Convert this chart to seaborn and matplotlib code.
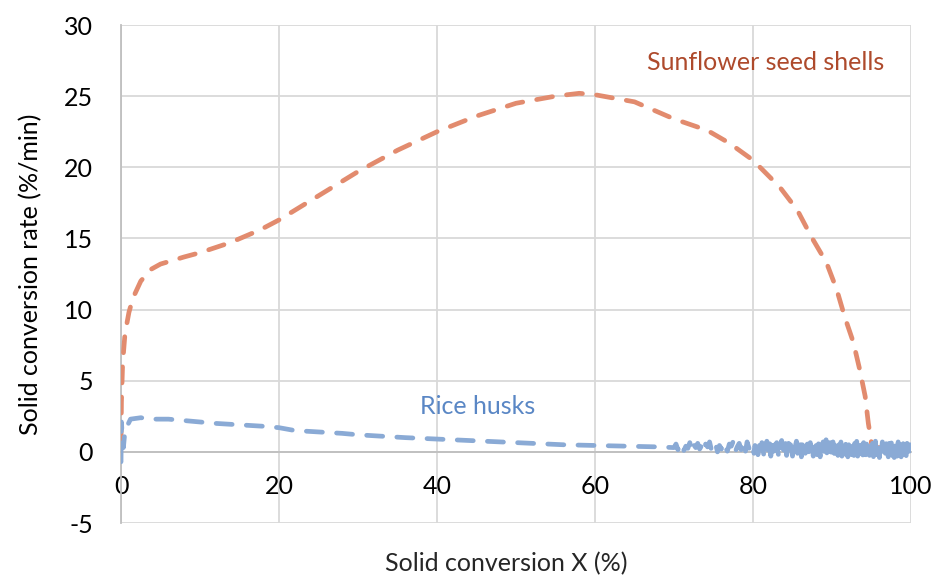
import matplotlib
matplotlib.use("Agg")
import matplotlib.pyplot as plt
import numpy as np
import pandas as pd
import seaborn as sns

# Sunflower seed shells (orange dashed curve)
sun_x = [0.0, 0.05, 0.2, 0.5, 1.0, 1.5, 2.5, 3.7, 5.0, 6.2, 8.0, 10.0, 13.8, 17.6, 20.0,
         25.0, 30.0, 35.0, 40.0, 45.0, 50.0, 55.0, 58.0, 60.0, 65.0, 70.0, 74.2, 77.0,
         80.0, 83.4, 85.6, 87.4, 89.3, 90.6, 91.6, 92.7, 93.5, 94.2, 94.6, 95.0, 95.5, 97.0]
sun_y = [0.6, 3.5, 6.2, 8.3, 9.8, 10.8, 12.0, 12.8, 13.2, 13.4, 13.7, 14.0, 14.7, 15.6, 16.3,
         18.0, 19.7, 21.2, 22.5, 23.6, 24.5, 25.0, 25.2, 25.1, 24.6, 23.4, 22.6, 21.7,
         20.5, 18.6, 17.0, 15.1, 13.3, 11.4, 9.5, 7.7, 5.8, 3.9, 2.0, 0.6, 0.3, 0.3]

# Rice husks (blue dashed curve, noisy from X = 70 %)
rice_x = [0.0, 0.02, 0.05, 0.15, 0.3, 0.5, 1.2, 2.5, 4.0, 6.0, 8.0, 10.0, 12.0, 15.0,
          18.0, 20.0, 22.0, 25.0, 28.0, 30.0, 33.0, 36.0, 40.0, 44.0, 48.0, 52.0, 56.0,
          60.0, 64.0, 68.0,
          70.0, 70.25, 70.5, 70.75, 71.0, 71.25, 71.5, 71.75, 72.0, 72.25, 72.5, 72.75,
          73.0, 73.25, 73.5, 73.75, 74.0, 74.25, 74.5, 74.75, 75.0, 75.25, 75.5, 75.75,
          76.0, 76.25, 76.5, 76.75, 77.0, 77.25, 77.5, 77.75, 78.0, 78.25, 78.5, 78.75,
          79.0, 79.25, 79.5, 79.75,
          80.0, 80.125, 80.25, 80.375, 80.5, 80.625, 80.75, 80.875,
          81.0, 81.125, 81.25, 81.375, 81.5, 81.625, 81.75, 81.875,
          82.0, 82.125, 82.25, 82.375, 82.5, 82.625, 82.75, 82.875,
          83.0, 83.125, 83.25, 83.375, 83.5, 83.625, 83.75, 83.875,
          84.0, 84.125, 84.25, 84.375, 84.5, 84.625, 84.75, 84.875,
          85.0, 85.125, 85.25, 85.375, 85.5, 85.625, 85.75, 85.875,
          86.0, 86.125, 86.25, 86.375, 86.5, 86.625, 86.75, 86.875,
          87.0, 87.125, 87.25, 87.375, 87.5, 87.625, 87.75, 87.875,
          88.0, 88.125, 88.25, 88.375, 88.5, 88.625, 88.75, 88.875,
          89.0, 89.125, 89.25, 89.375, 89.5, 89.625, 89.75, 89.875,
          90.0, 90.125, 90.25, 90.375, 90.5, 90.625, 90.75, 90.875,
          91.0, 91.125, 91.25, 91.375, 91.5, 91.625, 91.75, 91.875,
          92.0, 92.125, 92.25, 92.375, 92.5, 92.625, 92.75, 92.875,
          93.0, 93.125, 93.25, 93.375, 93.5, 93.625, 93.75, 93.875,
          94.0, 94.125, 94.25, 94.375, 94.5, 94.625, 94.75, 94.875,
          95.0, 95.125, 95.25, 95.375, 95.5, 95.625, 95.75, 95.875,
          96.0, 96.125, 96.25, 96.375, 96.5, 96.625, 96.75, 96.875,
          97.0, 97.125, 97.25, 97.375, 97.5, 97.625, 97.75, 97.875,
          98.0, 98.125, 98.25, 98.375, 98.5, 98.625, 98.75, 98.875,
          99.0, 99.125, 99.25, 99.375, 99.5, 99.625, 99.75, 99.875,
          100.0]
rice_y = [-0.7, 1.0, 2.1, 1.2, 0.3, 1.5, 2.3, 2.4, 2.3, 2.3, 2.2, 2.1, 2.0, 1.9,
          1.8, 1.7, 1.5, 1.4, 1.3, 1.2, 1.1, 1.0, 0.9, 0.8, 0.7, 0.6, 0.5,
          0.45, 0.4, 0.35,
          0.3, 0.55, 0.15, 0.45, 0.6, 0.1, 0.4, 0.25, 0.65, 0.05, 0.5, 0.3,
          0.6, 0.2, 0.45, 0.05, 0.55, 0.35, 0.7, 0.1, 0.4, 0.6, 0.0, 0.45,
          0.2, 0.65, 0.3, 0.05, 0.55, 0.4, 0.75, 0.0, 0.35, 0.6, 0.15, 0.5,
          -0.1, 0.7, 0.25, 0.5,
          0.6, -0.1, 0.45, 0.1, 0.7, -0.2, 0.35, 0.55,
          0.0, 0.65, 0.2, -0.25, 0.5, 0.3, 0.75, -0.1,
          0.4, 0.6, -0.3, 0.25, 0.7, 0.05, 0.5, -0.2,
          0.65, 0.15, -0.35, 0.55, 0.3, 0.8, -0.15, 0.45,
          0.1, 0.7, -0.25, 0.4, 0.6, -0.05, 0.5, 0.2,
          -0.3, 0.65, 0.0, 0.45, 0.75, -0.2, 0.35, 0.1,
          0.6, -0.35, 0.5, 0.2, 0.7, -0.1, 0.4, 0.55,
          -0.25, 0.3, 0.65, 0.0, 0.5, -0.3, 0.7, 0.15,
          0.45, -0.2, 0.8, 0.1, -0.35, 0.55, 0.25, 0.7,
          -0.15, 0.4, 0.85, -0.3, 0.5, 0.05, 0.65, -0.2,
          0.35, 0.7, -0.4, 0.45, 0.15, 0.6, -0.25, 0.5,
          0.0, 0.75, -0.3, 0.3, 0.55, -0.15, 0.65, 0.1,
          -0.35, 0.5, 0.2, 0.7, -0.2, 0.4, -0.4, 0.6,
          0.05, 0.75, -0.3, 0.35, 0.6, -0.1, 0.5, -0.35,
          0.65, 0.0, -0.4, 0.55, 0.2, 0.7, -0.25, 0.4,
          -0.1, 0.6, -0.35, 0.45, 0.75, -0.2, 0.3, 0.55,
          -0.4, 0.5, 0.1, 0.7, -0.3, 0.35, -0.1, 0.65,
          0.0, -0.35, 0.6, 0.2, 0.75, -0.25, 0.45, -0.4,
          0.55, 0.1, -0.3, 0.7, -0.05, 0.5, -0.35, 0.4,
          0.65, -0.2, 0.3, -0.4, 0.6, 0.05, -0.3, 0.5,
          0.2]

x_ticks = [0, 20, 40, 60, 80, 100]
y_ticks = [-5, 0, 5, 10, 15, 20, 25, 30]

sns.set_theme(style="whitegrid")
plt.rcParams["font.family"] = ["Lato", "DejaVu Sans"]
plt.rcParams["axes.unicode_minus"] = False

fig = plt.figure(figsize=(9.36, 5.79), dpi=100)
ax = fig.add_axes([0.1293, 0.0967, 0.8440, 0.8601])

orange = "#E28B6E"
blue = "#8AAAD5"
fs = 18

sun_df = pd.DataFrame({"x": sun_x, "y": sun_y})
rice_df = pd.DataFrame({"x": rice_x, "y": rice_y})

sns.lineplot(data=rice_df, x="x", y="y", ax=ax, sort=False, estimator=None,
             color=blue, linewidth=3.4, dashes=False, zorder=3)
sns.lineplot(data=sun_df, x="x", y="y", ax=ax, sort=False, estimator=None,
             color=orange, linewidth=3.4, dashes=False, zorder=2)
for line in ax.lines:
    line.set_dashes([3.4, 3.0])
    line.set_dash_capstyle("round")
    line.set_solid_capstyle("round")

ax.set_xlim(0, 100)
ax.set_ylim(-5, 30)
ax.set_xticks(x_ticks)
ax.set_yticks(y_ticks)
ax.grid(True, color="#D9D9D9", linewidth=1.3)
ax.set_axisbelow(True)

for side in ["top", "right"]:
    ax.spines[side].set_visible(False)
ax.spines["bottom"].set_position(("data", 0))
for side in ["bottom", "left"]:
    ax.spines[side].set_color("#BFBFBF")
    ax.spines[side].set_linewidth(1.3)
    ax.spines[side].set_zorder(1)

ax.tick_params(axis="both", which="both", length=6, width=1.3, color="#BFBFBF",
               labelsize=fs, labelcolor="#000000", direction="out")
ax.tick_params(axis="x", pad=11)
ax.tick_params(axis="y", pad=14)

ax.set_xlabel("")
ax.set_ylabel("Solid conversion rate (%/min)", fontsize=fs, color="#000000")
ax.yaxis.set_label_coords(-0.1, 0.5)
fig.text(0.541, 0.027, "Solid conversion X (%)", fontsize=fs, ha="center", va="center")

ax.text(81.6, 27.4, "Sunflower seed shells", color="#AE4A2C", fontsize=fs,
        ha="center", va="center")
ax.text(45.2, 3.2, "Rice husks", color="#5A87C5", fontsize=fs,
        ha="center", va="center")

fig.savefig("out.png", dpi=100)
